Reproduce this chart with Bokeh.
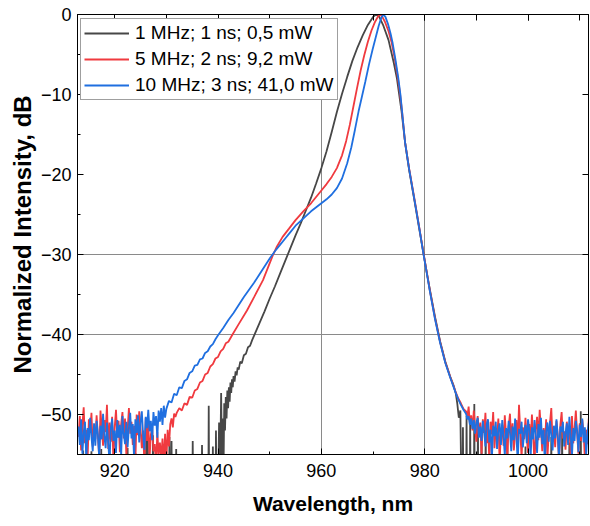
import numpy as np
from bokeh.plotting import figure
from bokeh.models import Range1d, LinearAxis, FixedTicker, Legend, LegendItem
from bokeh.embed import file_html
from bokeh.resources import INLINE

# ---------------- data ----------------
x_ticks = [920, 940, 960, 980, 1000]
y_ticks = [0, -10, -20, -30, -40, -50]
y_tick_labels = ["0", "\u221210", "\u221220", "\u221230", "\u221240", "\u221250"]
x_grid_at = [960, 980]
y_grid_at = [-30, -40]
series_labels = ["1 MHz; 1 ns; 0,5 mW", "5 MHz; 2 ns; 9,2 mW", "10 MHz; 3 ns; 41,0 mW"]

noise_step = 0.25          # nm, sampling of the noisy floor
left_noise_start = 913.0   # nm
right_noise_start = 988.0  # nm
below_floor = -60.0        # dB, values under the bottom of the axis

# 1 MHz (black) – main trace
black_main_nm = [940.0, 940.2, 940.35, 940.6, 940.75, 940.9, 941.05, 941.2, 941.35, 941.5, 941.65, 941.8,
                 941.95, 942.1, 942.25, 942.4, 942.55, 942.7, 942.85, 943.0, 943.2, 943.4, 943.6, 943.8,
                 944.0, 944.3, 944.6, 945.0, 945.4, 945.8, 946.2, 946.6, 947.0, 948, 949, 950, 951, 952,
                 953, 954, 955, 956, 957, 958, 959, 960, 961, 962, 963, 964, 965, 966, 967, 968, 969, 970,
                 970.6, 971.2, 972, 973, 974, 974.6, 975.5, 976.2, 977, 978, 979, 979.8, 980.5, 981, 982,
                 983, 984, 985, 985.6, 986, 986.3, 986.6, 986.9, 987.1]
black_main_db = [-60, -51, -60, -47.3, -55, -50.5, -58, -48.6, -52, -47.8, -50.5, -47.0,
                 -49.2, -46.6, -48.4, -46.0, -47.3, -45.6, -46.6, -45.2, -45.9, -44.6, -45.1, -44.1,
                 -44.4, -43.4, -43.6, -42.6, -42.4, -41.6, -41.4, -40.7, -40.1, -38.6, -37.1, -35.5, -34.0, -32.4,
                 -30.8, -29.2, -27.6, -26.1, -24.5, -22.9, -21.1, -19.2, -17.1, -14.7, -12.2, -9.9, -7.8, -5.8, -4.1, -2.6, -1.3, -0.3,
                 0.0, -0.3, -1.4, -3.2, -6.0, -7.9, -12.0, -16.0, -19.5, -23.2, -27.0, -30.0, -32.6, -34.4, -37.8,
                 -40.9, -43.4, -45.4, -46.4, -47.3, -48.6, -50.4, -49.5, -60]
# 1 MHz (black) – isolated noise spikes above the floor
black_spike_left_nm = [913.9, 915.5, 917.4, 919.0, 922.5, 924.0, 926.1, 926.4, 927.4, 930.6, 931.0, 931.9,
                       935.1, 936.9, 938.2, 939.0, 939.6]
black_spike_left_db = [-54.5, -54.6, -54.3, -54.5, -54.2, -54.8, -53.2, -53.0, -52.6, -52.8, -53.3, -54.3,
                       -53.3, -53.8, -48.9, -54.0, -52.0]
black_spike_right_nm = [987.4, 988.1, 988.8, 989.6, 990.3, 991.0, 991.8, 993.0, 996.0, 999.5, 1004.5, 1006.6,
                        1008.0, 1010.2, 1011.2]
black_spike_right_db = [-51.6, -50.2, -51.0, -48.7, -50.5, -52.0, -51.5, -53.5, -53.0, -54.0, -52.8, -52.2,
                        -53.5, -49.6, -53.0]

# 5 MHz (red)
red_left_noise_db = [-52.8, -50.2, -54.5, -51.3, -49.1, -53.6, -51.9, -55.7, -50.6, -52.3, -49.8, -54.0, -51.5, -53.1, -50.1, -52.7,
                     -55.3, -49.5, -51.8, -53.9, -50.7, -52.2, -48.8, -54.3, -51.0, -53.4, -50.3, -56.0, -51.6, -49.4, -52.9, -50.8,
                     -54.7, -51.2, -49.7, -53.0, -50.5, -55.1, -51.9, -49.2, -52.4, -50.9, -53.8, -51.4, -55.9, -50.0, -52.6, -49.6,
                     -51.7, -54.2, -52.0, -56.3, -50.4, -53.3, -51.1, -55.4, -52.5, -51.8, -54.6, -53.7, -56.5, -52.2, -55.0, -53.5,
                     -55.5, -53.0, -56.2, -52.4, -55.8, -51.9, -54.0, -51.2, -50.5, -51.6, -49.9, -50.3]
red_main_nm = [932.0, 932.5, 933.0, 933.5, 934.0, 934.5, 935.0, 935.5, 936.0, 936.5, 937.0, 937.5, 938.0, 938.5,
               939.0, 939.5, 940.0, 940.5, 941.0, 941.5, 942.0, 942.8, 944.0, 945.6, 947.0, 948.7, 950.6, 951.4,
               952.5, 953.7, 955.0, 956.5, 958.0, 960.0, 961.0, 962.0, 963.0, 964.0, 964.8, 965.5, 966.2, 966.9,
               967.6, 968.3, 969.0, 969.7, 970.4, 971.0, 971.4, 971.8, 972.3, 973.0, 973.6, 974.2, 974.8, 975.2,
               975.6, 976.2, 977, 978, 979, 979.8, 980.5, 981, 982, 983, 984, 985, 986, 986.5, 987.0, 987.5]
red_main_db = [-49.8, -49.2, -49.5, -48.6, -48.8, -47.8, -47.9, -47.0, -46.8, -46.0, -45.8, -45.0, -44.8, -44.0,
               -43.7, -43.0, -42.8, -42.1, -41.8, -41.1, -40.9, -40.0, -38.7, -37.0, -35.3, -33.2, -30.1, -29.0,
               -27.8, -26.8, -25.7, -24.6, -23.6, -22.0, -21.2, -20.3, -19.2, -17.6, -15.8, -13.8, -11.5, -9.2,
               -7.0, -5.1, -3.4, -2.0, -0.9, -0.2, 0.0, -0.3, -0.9, -2.1, -3.5, -5.5, -7.9, -9.8,
               -12.0, -16.0, -19.3, -23.0, -26.8, -30.0, -32.6, -34.5, -38.0, -41.0, -43.5, -45.4, -47.2, -48.0, -48.6, -49.3]
red_right_noise_db = [-49.6, -50.3, -49.0, -51.2, -50.1, -52.0, -49.5, -51.6, -53.4, -50.2, -52.7, -51.0, -54.9, -50.6, -52.3, -49.8,
                      -53.6, -51.4, -55.8, -50.9, -52.5, -49.7, -54.2, -51.8, -53.0, -50.5, -56.0, -52.1, -51.3, -53.9, -50.1, -52.6,
                      -55.1, -51.5, -49.9, -53.3, -51.1, -54.5, -52.4, -50.7, -53.7, -48.8, -52.2, -55.4, -51.6, -53.1, -50.4, -52.9,
                      -54.8, -51.2, -53.5, -50.0, -52.7, -56.2, -51.9, -50.3, -53.2, -49.4, -52.0, -54.6, -51.7, -53.8, -50.6, -55.5,
                      -52.3, -51.0, -49.2, -53.4, -51.5, -54.1, -50.8, -52.6, -55.9, -51.3, -49.7, -53.0, -52.1, -54.4, -50.9, -52.8,
                      -51.4, -55.2, -50.2, -53.6, -51.8, -49.5, -52.4, -54.9, -51.1, -53.3, -50.7, -52.2, -55.6, -51.9, -53.7, -50.5,
                      -52.9]

# 10 MHz (blue)
blue_left_noise_db = [-51.5, -53.8, -50.6, -54.9, -52.2, -50.9, -55.8, -51.7, -53.2, -50.4, -52.8, -54.6, -51.1, -53.9, -50.8, -52.5,
                      -55.5, -51.4, -53.1, -49.9, -52.7, -54.2, -51.0, -53.6, -56.0, -51.8, -50.5, -53.3, -52.0, -54.8, -50.7, -52.9,
                      -51.3, -55.2, -50.2, -52.4, -53.7, -50.9, -54.1, -51.6, -49.8, -53.0, -51.2, -55.6, -50.6, -52.3, -50.1, -53.5,
                      -51.0, -49.6, -52.6, -54.4, -50.3, -51.7, -49.4, -52.1, -50.8, -53.2, -49.7, -51.4, -50.2, -52.9, -49.5, -50.9,
                      -49.2, -51.3, -48.9, -50.4]
blue_main_nm = [930.0, 930.5, 931.0, 931.5, 932.0, 932.5, 933.0, 933.5, 934.0, 934.5, 935.0, 935.5, 936.0, 936.5,
                937.0, 937.5, 938.0, 938.5, 939.0, 939.5, 940.0, 941, 942, 943, 944, 945, 946, 947, 948, 949, 950,
                951, 952, 953, 954, 955, 956, 957, 958, 959, 960, 961, 962, 963, 964, 965.0, 965.8, 966.5, 967.2,
                967.8, 968.5, 969.2, 969.9, 970.5, 971.1, 971.6, 972.0, 972.4, 972.9,
                973.4, 973.8, 974.3, 974.9, 975.3, 975.6, 976.2, 977, 978, 979, 979.8, 980.5, 981, 982, 983, 984,
                985, 986, 986.5, 987.0, 987.5]
blue_main_db = [-49.3, -48.3, -48.5, -47.4, -47.6, -46.6, -46.7, -45.8, -45.6, -44.8, -44.6, -43.9, -43.8, -43.1,
                -43.0, -42.3, -42.1, -41.5, -41.2, -40.6, -40.1, -39.2, -38.2, -37.3, -36.3, -35.3, -34.4, -33.5, -32.5, -31.5, -30.5,
                -29.6, -28.8, -28.0, -27.2, -26.4, -25.8, -25.2, -24.6, -24.1, -23.6, -23.1, -22.5, -21.7, -20.5, -18.6, -16.6, -14.4, -12.1,
                -10.4, -8.4, -6.3, -4.4, -2.9, -1.4, -0.4, 0.0, -0.3, -1.2,
                -2.4, -3.6, -5.5, -8.0, -10.0, -12.0, -16.0, -19.4, -23.1, -26.9, -30.1, -32.7, -34.6, -38.1, -41.1, -43.6,
                -45.5, -47.3, -48.1, -48.8, -49.4]
blue_right_noise_db = [-49.9, -50.6, -50.2, -51.3, -50.5, -51.8, -50.7, -52.4, -51.0, -50.4, -52.9, -51.5, -53.3, -50.8, -52.1, -54.0,
                       -51.2, -50.6, -53.5, -51.9, -55.6, -51.4, -52.7, -50.9, -54.3, -52.0, -51.1, -53.8, -50.7, -52.6, -55.2, -51.7,
                       -53.0, -50.8, -52.3, -54.6, -51.5, -53.2, -50.5, -52.8, -55.9, -51.8, -52.4, -50.9, -54.1, -52.2, -51.3, -53.6,
                       -50.6, -52.0, -55.4, -51.6, -53.1, -50.7, -52.5, -54.8, -51.2, -52.9, -50.4, -53.7, -51.9, -56.1, -52.1, -51.0,
                       -53.4, -50.8, -52.6, -54.5, -51.4, -53.0, -50.6, -52.7, -55.7, -51.5, -52.2, -50.9, -54.0, -52.4, -51.1, -53.8,
                       -50.3, -52.5, -55.3, -51.7, -53.3, -50.8, -52.0, -54.7, -51.3, -52.8, -50.5, -53.5, -51.6, -55.0, -52.3, -51.0,
                       -53.2]


# ---------------- assemble series ----------------
def spikes(nm, db, half=0.08):
    xs, ys = [], []
    for s, h in zip(nm, db):
        xs += [s - half, s, s + half]
        ys += [below_floor, h, below_floor]
    return xs, ys


def noisy(start, vals):
    return [start + noise_step * i for i in range(len(vals))], list(vals)


bx1, by1 = spikes(black_spike_left_nm, black_spike_left_db)
bx2, by2 = spikes(black_spike_right_nm, black_spike_right_db)
black_x = [912.0] + bx1 + black_main_nm + bx2 + [1013.0]
black_y = [below_floor] + by1 + black_main_db + by2 + [below_floor]

rlx, rly = noisy(left_noise_start, red_left_noise_db)
rrx, rry = noisy(right_noise_start, red_right_noise_db)
red_x = rlx + red_main_nm + rrx
red_y = rly + red_main_db + rry

blx, bly = noisy(left_noise_start, blue_left_noise_db)
brx, bry = noisy(right_noise_start, blue_right_noise_db)
blue_x = blx + blue_main_nm + brx
blue_y = bly + blue_main_db + bry

# ---------------- figure ----------------
FONT = "Liberation Sans"
p = figure(width=590, height=520, output_backend="svg", toolbar_location=None,
           x_range=Range1d(912.8, 1011.7), y_range=Range1d(-55, 0),
           min_border_left=77, min_border_right=2, min_border_top=14, min_border_bottom=66)
p.outline_line_color = "black"
p.outline_line_width = 1
p.background_fill_color = "white"
p.border_fill_color = "white"

p.xgrid.ticker = FixedTicker(ticks=x_grid_at)
p.ygrid.ticker = FixedTicker(ticks=y_grid_at)
for g in (p.xgrid, p.ygrid):
    g.grid_line_color = "#8a8a8a"
    g.grid_line_width = 1

colors = ["#474747", "#f03a3f", "#1f6fe0"]
r_black = p.line(black_x, black_y, line_color=colors[0], line_width=1.8)
r_red = p.line(red_x, red_y, line_color=colors[1], line_width=1.8)
r_blue = p.line(blue_x, blue_y, line_color=colors[2], line_width=1.8)

x_minor = [910 + 10 * i for i in range(12)]
y_minor = [-5 * i for i in range(12)]


def style_axis(ax):
    ax.axis_line_color = "black"
    ax.axis_line_width = 1
    ax.major_tick_line_color = "black"
    ax.minor_tick_line_color = "black"
    ax.major_tick_in = 6
    ax.major_tick_out = 0
    ax.minor_tick_in = 3
    ax.minor_tick_out = 0
    ax.major_label_text_font = FONT
    ax.major_label_text_font_size = "18px"
    ax.major_label_text_color = "black"
    ax.axis_label_text_font = FONT
    ax.axis_label_text_font_style = "bold"
    ax.axis_label_text_font_size = "21px"
    ax.axis_label_text_color = "black"


xa = p.xaxis[0]
xa.ticker = FixedTicker(ticks=x_ticks, minor_ticks=x_minor)
style_axis(xa)
xa.major_label_standoff = 9
xa.axis_label = "Wavelength, nm"
xa.axis_label_standoff = 12

ya = p.yaxis[0]
ya.ticker = FixedTicker(ticks=y_ticks, minor_ticks=y_minor)
style_axis(ya)
ya.major_label_standoff = 6
ya.major_label_overrides = {t: s for t, s in zip(y_ticks, y_tick_labels)}
ya.axis_label = "Normalized Intensity, dB"
ya.axis_label_text_font_size = "24px"
ya.axis_label_standoff = 2

top = LinearAxis(ticker=FixedTicker(ticks=x_ticks, minor_ticks=x_minor))
style_axis(top)
top.minor_tick_in = 6
top.major_label_standoff = 0
top.major_label_overrides = {t: "" for t in x_ticks}
p.add_layout(top, "above")

right = LinearAxis(ticker=FixedTicker(ticks=y_ticks, minor_ticks=[]))
style_axis(right)
right.major_label_standoff = 0
right.major_label_overrides = {t: "" for t in y_ticks}
p.add_layout(right, "right")

legend = Legend(items=[LegendItem(label=series_labels[0], renderers=[r_black]),
                       LegendItem(label=series_labels[1], renderers=[r_red]),
                       LegendItem(label=series_labels[2], renderers=[r_blue])],
                location=(3, 354), orientation="vertical")
legend.label_text_font = FONT
legend.label_text_font_size = "19px"
legend.label_text_color = "black"
legend.glyph_width = 45
legend.glyph_height = 20
legend.label_height = 20
legend.label_standoff = 6
legend.spacing = 4
legend.padding = 3
legend.margin = 0
legend.border_line_color = "#404040"
legend.border_line_width = 1
legend.background_fill_color = "white"
legend.background_fill_alpha = 1.0
p.add_layout(legend)

open("out.html", "w").write(file_html(p, INLINE))
